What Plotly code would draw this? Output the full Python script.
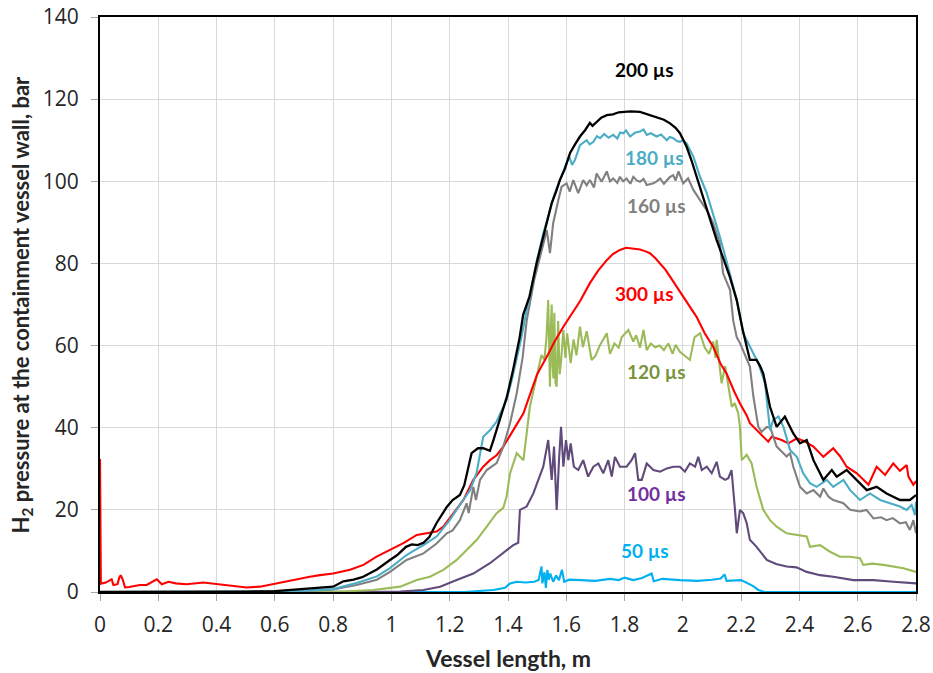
import plotly.graph_objects as go

# ---------------- data ----------------
x_ticks = [0, 0.2, 0.4, 0.6, 0.8, 1.0, 1.2, 1.4, 1.6, 1.8, 2.0, 2.2, 2.4, 2.6, 2.8]
x_tick_labels = ["0", "0.2", "0.4", "0.6", "0.8", "1", "1.2", "1.4", "1.6", "1.8", "2", "2.2", "2.4", "2.6", "2.8"]
y_ticks = [0, 20, 40, 60, 80, 100, 120, 140]

# 50 us
x_50 = [0, 1.25, 1.35, 1.39, 1.407, 1.43, 1.46, 1.49, 1.505, 1.512, 1.515, 1.518, 1.525, 1.53, 1.535,
        1.54, 1.545, 1.555, 1.565, 1.575, 1.585, 1.593, 1.61, 1.65, 1.7, 1.75, 1.78, 1.8, 1.83, 1.86,
        1.893, 1.9, 1.93, 1.99, 2.05, 2.1, 2.13, 2.143, 2.15, 2.2, 2.22, 2.24, 2.259, 2.28, 2.8]
y_50 = [0, 0, 0.5, 1.0, 2.1, 2.5, 2.3, 2.5, 2.9, 5.5, 6.2, 2.1, 4.8, 1.0, 5.4,
        3.0, 4.5, 2.5, 4.0, 2.9, 5.4, 2.5, 3.0, 2.9, 2.7, 3.2, 2.9, 3.5, 2.9, 3.4,
        4.5, 2.6, 3.2, 2.9, 2.7, 3.0, 3.3, 4.3, 2.7, 2.9, 2.2, 1.5, 0.5, 0, 0]

# 100 us
x_100 = [0, 0.9, 1.03, 1.11, 1.167, 1.224, 1.281, 1.338, 1.384, 1.418, 1.435, 1.441, 1.464, 1.487,
         1.504, 1.521, 1.538, 1.55, 1.558, 1.567, 1.575, 1.582, 1.59, 1.599, 1.607, 1.615, 1.626,
         1.641, 1.658, 1.675, 1.693, 1.71, 1.727, 1.744, 1.756, 1.767, 1.784, 1.807, 1.824, 1.836,
         1.847, 1.859, 1.876, 1.899, 1.922, 1.945, 1.967, 1.99, 2.007, 2.024, 2.042, 2.053, 2.065,
         2.082, 2.099, 2.116, 2.127, 2.145, 2.156, 2.167, 2.179, 2.185, 2.196, 2.207, 2.219, 2.23,
         2.253, 2.288, 2.32, 2.356, 2.39, 2.425, 2.471, 2.516, 2.585, 2.654, 2.722, 2.8]
y_100 = [0, 0, 0.1, 0.5, 1.3, 2.9, 4.5, 7.0, 9.4, 11.4, 12.0, 20.0, 20.8, 24.0,
         27.3, 30.5, 37.0, 27.3, 35.4, 20.0, 32.1, 40.2, 30.5, 37.0, 32.1, 36.2, 30.5,
         29.7, 32.1, 28.1, 30.5, 31.3, 28.9, 32.1, 28.1, 32.9, 30.5, 30.5, 32.1, 33.8,
         27.3, 27.3, 31.3, 29.7, 29.3, 30.1, 30.5, 30.5, 29.3, 31.3, 30.5, 32.9, 29.7,
         30.5, 28.9, 31.7, 28.1, 27.3, 27.7, 29.7, 20.0, 14.3, 20.0, 19.2, 16.8, 12.7,
         11.0, 7.8, 6.8, 6.2, 6.0, 4.9, 4.1, 3.7, 2.9, 2.9, 2.5, 2.1]

# 120 us
x_120 = [0, 0.8, 0.938, 1.03, 1.087, 1.132, 1.178, 1.224, 1.258, 1.293, 1.327, 1.361, 1.384, 1.395,
         1.407, 1.43, 1.453, 1.47, 1.475, 1.498, 1.515, 1.525, 1.532, 1.538, 1.541, 1.544, 1.547,
         1.55, 1.553, 1.556, 1.559, 1.563, 1.567, 1.572, 1.577, 1.582, 1.59, 1.597, 1.603, 1.615,
         1.625, 1.635, 1.647, 1.657, 1.67, 1.687, 1.7, 1.715, 1.739, 1.75, 1.765, 1.78, 1.79, 1.813,
         1.83, 1.84, 1.853, 1.865, 1.876, 1.89, 1.905, 1.92, 1.935, 1.95, 1.965, 1.975, 1.99, 2.024,
         2.04, 2.059, 2.075, 2.09, 2.104, 2.112, 2.116, 2.125, 2.133, 2.145, 2.156, 2.168, 2.178,
         2.19, 2.196, 2.202, 2.219, 2.236, 2.253, 2.276, 2.299, 2.322, 2.356, 2.391, 2.425, 2.436,
         2.471, 2.505, 2.539, 2.574, 2.608, 2.619, 2.65, 2.688, 2.72, 2.757, 2.8]
y_120 = [0, 0, 0.5, 1.3, 2.9, 3.7, 5.4, 7.8, 10.2, 12.7, 15.9, 19.2, 20.5, 23.2,
         28.9, 33.8, 32.1, 41.9, 45.1, 52.4, 57.7, 56.5, 62.0, 71.1, 60.0, 50.0, 64.0,
         70.0, 55.0, 52.0, 68.0, 51.0, 50.0, 66.0, 53.0, 56.0, 63.8, 57.0, 63.0, 55.7,
         61.5, 57.6, 64.6, 59.6, 63.5, 56.5, 57.5, 60.0, 63.0, 58.0, 60.5, 59.5, 62.0, 63.8,
         61.0, 62.5, 59.5, 63.8, 58.9, 60.5, 59.6, 60.0, 58.9, 60.5, 58.0, 60.2, 58.5, 56.5,
         62.0, 63.0, 59.5, 58.0, 61.0, 57.0, 61.4, 55.0, 50.8, 55.0, 50.0, 45.1, 46.0,
         43.5, 40.0, 32.1, 33.4, 31.3, 25.6, 20.0, 17.5, 15.9, 14.3, 13.9, 13.5, 11.0,
         11.4, 9.8, 8.6, 8.6, 8.2, 6.6, 6.9, 6.6, 6.2, 5.8, 4.9]

# 160 us
x_160 = [0, 0.55, 0.7, 0.8, 0.88, 0.95, 0.995, 1.052, 1.11, 1.155, 1.19, 1.21, 1.235, 1.25, 1.258,
         1.265, 1.281, 1.29, 1.304, 1.327, 1.361, 1.384, 1.407, 1.43, 1.45, 1.464, 1.49, 1.51, 1.533,
         1.544, 1.555, 1.573, 1.584, 1.601, 1.612, 1.624, 1.641, 1.658, 1.67, 1.681, 1.695, 1.704,
         1.721, 1.739, 1.75, 1.761, 1.775, 1.784, 1.795, 1.807, 1.82, 1.83, 1.842, 1.853, 1.865,
         1.876, 1.899, 1.91, 1.922, 1.935, 1.945, 1.955, 1.967, 1.975, 1.985, 2.001, 2.018, 2.036,
         2.059, 2.082, 2.104, 2.127, 2.138, 2.162, 2.173, 2.185, 2.196, 2.23, 2.242, 2.259, 2.27,
         2.288, 2.3, 2.322, 2.345, 2.356, 2.368, 2.379, 2.402, 2.425, 2.448, 2.471, 2.482, 2.5,
         2.516, 2.551, 2.574, 2.608, 2.63, 2.654, 2.68, 2.699, 2.72, 2.745, 2.765, 2.779, 2.791, 2.8]
y_160 = [0, 0, 0.2, 0.6, 1.7, 3.0, 4.9, 7.8, 9.4, 11.8, 14.3, 15.0, 17.5, 20.5, 21.6,
         19.2, 25.6, 22.4, 27.3, 29.7, 31.4, 35.4, 41.1, 48.4, 57.0, 66.0, 76.0, 81.6, 88.1,
         82.5, 89.8, 95.5, 98.7, 99.5, 97.5, 100.3, 97.1, 100.3, 99.0, 100.3, 98.5, 101.9,
         99.9, 102.4, 100.0, 100.7, 99.6, 101.1, 100.0, 100.7, 99.4, 101.1, 100.2, 99.9, 100.6,
         99.1, 99.5, 100.0, 100.7, 99.4, 100.3, 101.0, 101.5, 100.2, 102.4, 99.5, 100.7, 97.9,
         95.4, 93.0, 89.8, 84.9, 77.6, 73.5, 66.0, 62.0, 60.6, 54.9, 47.6, 40.2, 39.0,
         40.2, 40.0, 35.4, 33.8, 33.0, 33.8, 30.5, 25.6, 24.0, 24.8, 23.2, 25.2, 23.2,
         22.4, 21.6, 20.0, 19.6, 20.0, 17.9, 18.2, 17.5, 18.0, 16.7, 17.0, 15.1, 17.5, 14.3]

# 180 us
x_180 = [0, 0.5, 0.6, 0.7, 0.8, 0.88, 0.95, 0.995, 1.052, 1.08, 1.11, 1.155, 1.2, 1.246, 1.27,
         1.292, 1.31, 1.315, 1.338, 1.361, 1.395, 1.413, 1.44, 1.46, 1.48, 1.5, 1.52, 1.54, 1.56,
         1.578, 1.595, 1.61, 1.62, 1.63, 1.647, 1.66, 1.67, 1.68, 1.693, 1.705, 1.716, 1.73, 1.745,
         1.761, 1.775, 1.785, 1.796, 1.805, 1.819, 1.835, 1.853, 1.865, 1.876, 1.89, 1.91, 1.925,
         1.945, 1.955, 1.967, 1.98, 1.99, 2.0, 2.013, 2.036, 2.059, 2.082, 2.104, 2.127, 2.15, 2.17,
         2.185, 2.207, 2.23, 2.259, 2.282, 2.293, 2.299, 2.31, 2.328, 2.345, 2.368, 2.391, 2.413,
         2.436, 2.459, 2.494, 2.516, 2.551, 2.574, 2.608, 2.642, 2.677, 2.711, 2.745, 2.768, 2.785,
         2.797, 2.8]
y_180 = [0, 0, 0.1, 0.3, 0.7, 2.2, 3.8, 5.8, 9.0, 10.2, 11.4, 13.5, 17.5, 22.4, 24.8,
         29.0, 36.2, 37.8, 39.4, 41.5, 46.7, 51.6, 60.0, 67.0, 74.0, 81.0, 87.0, 92.0, 97.0,
         100.3, 103.5, 106.0, 104.0, 105.2, 108.8, 109.5, 110.0, 109.0, 109.6, 111.0, 110.5, 111.5, 110.6,
         111.3, 110.4, 111.9, 111.7, 112.4, 110.9, 111.8, 112.1, 112.6, 111.3, 111.7, 110.9, 111.4,
         110.0, 110.8, 110.5, 109.8, 109.6, 110.0, 109.2, 106.0, 101.1, 97.1, 92.2, 86.5, 80.5, 75.0,
         71.1, 63.0, 59.7, 55.7, 50.8, 44.3, 39.4, 41.9, 42.7, 40.2, 34.6, 32.9, 28.9,
         26.5, 25.6, 27.3, 25.6, 27.3, 24.8, 22.4, 24.0, 22.4, 21.6, 20.8, 20.0, 21.2,
         18.7, 22.0]

# 200 us
x_200 = [0, 0.3, 0.5, 0.6, 0.65, 0.7, 0.75, 0.8, 0.835, 0.87, 0.9, 0.95, 0.995, 1.02, 1.05, 1.07,
         1.09, 1.11, 1.13, 1.155, 1.19, 1.21, 1.235, 1.25, 1.275, 1.297, 1.315, 1.338, 1.35, 1.372,
         1.396, 1.416, 1.44, 1.452, 1.474, 1.498, 1.52, 1.533, 1.55, 1.565, 1.578, 1.595, 1.613, 1.63,
         1.647, 1.665, 1.681, 1.69, 1.704, 1.72, 1.739, 1.76, 1.78, 1.796, 1.82, 1.853, 1.88, 1.91,
         1.935, 1.956, 1.975, 1.99, 2.013, 2.03, 2.047, 2.065, 2.082, 2.1, 2.116, 2.14, 2.16, 2.185,
         2.205, 2.23, 2.253, 2.265, 2.276, 2.299, 2.322, 2.35, 2.379, 2.402, 2.425, 2.448, 2.482,
         2.511, 2.528, 2.562, 2.597, 2.631, 2.665, 2.699, 2.745, 2.779, 2.8]
y_200 = [0, 0, 0.1, 0.2, 0.5, 0.8, 1.0, 1.3, 2.6, 3.0, 3.6, 5.5, 7.8, 9.0, 11.0, 11.6,
         11.4, 12.0, 13.4, 16.8, 20.7, 22.4, 23.6, 26.0, 33.8, 35.0, 35.0, 34.4, 37.0, 41.9,
         47.5, 53.6, 62.0, 67.5, 72.0, 80.0, 86.0, 89.8, 94.7, 97.5, 100.3, 103.0, 106.9, 109.0,
         110.9, 112.5, 114.2, 113.5, 114.5, 115.5, 116.1, 116.3, 116.8, 116.9, 117.0, 116.9, 116.3, 115.7,
         115.0, 114.1, 113.0, 111.7, 108.4, 105.0, 101.1, 97.0, 93.0, 89.0, 85.7, 81.0, 77.0, 71.0,
         64.0, 56.5, 56.5, 55.0, 53.2, 45.1, 40.2, 42.7, 38.6, 36.2, 37.0, 32.1, 27.3,
         29.7, 28.1, 29.7, 27.3, 24.8, 25.6, 24.0, 22.4, 22.4, 23.6]

# 300 us
x_300 = [0, 0.003, 0.006, 0.02, 0.035, 0.04, 0.046, 0.06, 0.066, 0.071, 0.078, 0.086, 0.1, 0.137,
         0.16, 0.18, 0.195, 0.212, 0.235, 0.26, 0.297, 0.355, 0.412, 0.457, 0.503, 0.549, 0.618,
         0.652, 0.686, 0.72, 0.755, 0.8, 0.858, 0.904, 0.949, 0.995, 1.041, 1.087, 1.121, 1.155,
         1.178, 1.212, 1.247, 1.281, 1.315, 1.338, 1.361, 1.384, 1.418, 1.453, 1.475, 1.5, 1.533,
         1.56, 1.59, 1.62, 1.647, 1.681, 1.71, 1.739, 1.76, 1.784, 1.805, 1.819, 1.853, 1.87, 1.887,
         1.905, 1.922, 1.94, 1.956, 1.975, 1.99, 2.024, 2.047, 2.075, 2.104, 2.13, 2.15, 2.175,
         2.196, 2.219, 2.23, 2.265, 2.293, 2.305, 2.339, 2.362, 2.391, 2.415, 2.448, 2.482, 2.516,
         2.54, 2.562, 2.597, 2.637, 2.665, 2.694, 2.722, 2.745, 2.768, 2.774, 2.791, 2.8]
y_300 = [32.4, 2.0, 2.1, 2.3, 2.9, 3.1, 1.7, 1.9, 3.5, 4.1, 3.0, 1.1, 1.2, 1.7,
         1.7, 2.4, 3.1, 1.9, 2.5, 2.1, 1.9, 2.3, 1.9, 1.5, 1.1, 1.3, 2.3,
         2.9, 3.3, 3.7, 4.1, 4.5, 5.4, 6.6, 8.6, 10.2, 11.9, 13.9, 14.3, 14.7,
         15.9, 19.2, 22.4, 27.3, 30.5, 32.1, 33.3, 35.4, 39.5, 43.5, 48.0, 53.0, 57.3,
         61.0, 64.6, 68.0, 70.8, 75.2, 78.3, 80.8, 82.3, 83.3, 83.8, 83.7, 83.4, 83.0, 82.5,
         81.3, 80.0, 78.5, 76.8, 74.8, 73.0, 69.5, 67.0, 63.0, 59.7, 55.5, 53.2, 49.0,
         45.9, 43.0, 41.1, 38.6, 36.6, 37.8, 37.0, 36.2, 37.4, 36.8, 35.4, 32.9, 35.0,
         33.0, 30.5, 28.9, 26.1, 30.5, 28.5, 31.3, 29.5, 30.9, 28.1, 26.1, 27.0]

series = [
    ("50 µs", x_50, y_50),
    ("100 µs", x_100, y_100),
    ("120 µs", x_120, y_120),
    ("300 µs", x_300, y_300),
    ("160 µs", x_160, y_160),
    ("180 µs", x_180, y_180),
    ("200 µs", x_200, y_200),
]

# label anchor points (data coords)
label_names = ["200 µs", "180 µs", "160 µs", "300 µs", "120 µs", "100 µs", "50 µs"]
label_x = [1.870, 1.904, 1.911, 1.870, 1.911, 1.911, 1.870]
label_y = [127.1, 105.9, 94.0, 72.6, 53.6, 24.1, 10.0]

x_title = "<b>Vessel length, m</b>"
y_title = "<b>H<sub>2</sub> pressure at the containment vessel wall, bar</b>"

# ---------------- styling ----------------
line_colors = {
    "50 µs": "#00B0F0", "100 µs": "#604A7B", "120 µs": "#9BBB59", "300 µs": "#FF0000",
    "160 µs": "#808080", "180 µs": "#4BACC6", "200 µs": "#000000",
}
label_colors = {
    "50 µs": "#00B0F0", "100 µs": "#7030A0", "120 µs": "#77933C", "300 µs": "#FF0000",
    "160 µs": "#808080", "180 µs": "#4BACC6", "200 µs": "#000000",
}

fig = go.Figure()
for name, xs, ys in series:
    fig.add_trace(go.Scatter(
        x=xs, y=ys, mode="lines", name=name,
        line=dict(color=line_colors[name], width=2.3 if name == "200 µs" else 2.1),
        hoverinfo="skip",
    ))

for name, lx, ly in zip(label_names, label_x, label_y):
    fig.add_annotation(x=lx, y=ly, text="<b>%s</b>" % name, showarrow=False,
                       font=dict(family="Lato", size=19, color=label_colors[name]),
                       xanchor="center", yanchor="middle")

# axis titles as annotations (precise placement)
fig.add_annotation(xref="paper", yref="paper", x=0.5, y=0, yanchor="middle", yshift=-66,
                   text=x_title, showarrow=False,
                   font=dict(family="Lato", size=23, color="#262626"))
fig.add_annotation(xref="paper", yref="paper", x=0, y=0.5, xanchor="center", xshift=-79,
                   textangle=-90, text=y_title, showarrow=False,
                   font=dict(family="Lato", size=22, color="#262626"))

axis_common = dict(
    showline=True, linecolor="black", linewidth=2, mirror=True,
    showgrid=True, gridcolor="#D9D9D9", gridwidth=1,
    ticks="outside", ticklen=7, tickcolor="#A6A6A6",
    tickfont=dict(family="Open Sans", size=21, color="#262626"),
    zeroline=False, automargin=False,
)

fig.update_xaxes(range=[0, 2.8], tickvals=x_ticks, ticktext=x_tick_labels,
                 ticklabelstandoff=6, **axis_common)
fig.update_yaxes(range=[0, 140], tickvals=y_ticks, ticklabelstandoff=8, **axis_common)

fig.update_layout(
    width=933, height=673,
    margin=dict(l=100, r=17, t=17, b=81),
    plot_bgcolor="white", paper_bgcolor="white",
    showlegend=False,
)

fig.write_html("out.html")
